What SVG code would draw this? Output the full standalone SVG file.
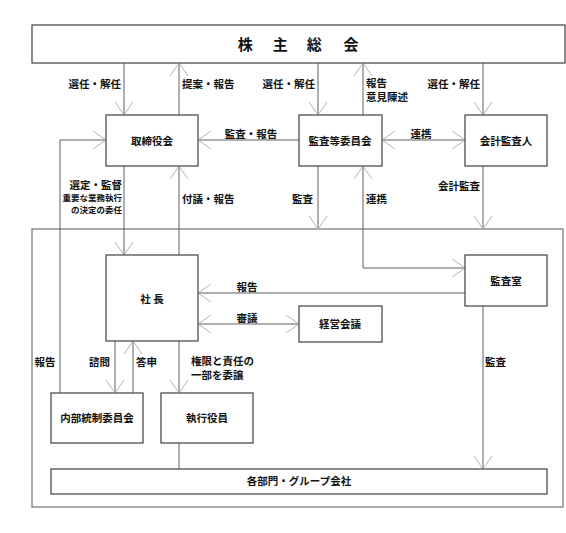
<svg xmlns="http://www.w3.org/2000/svg" width="566" height="533" viewBox="0 0 566 533">
<style>
.box{fill:#fff;stroke:#404040;stroke-width:1.2}
.frame{fill:none;stroke:#707070;stroke-width:1.2}
.ln{fill:none;stroke:#606060;stroke-width:1}
text{font-family:"Noto Sans CJK JP","Noto Sans",sans-serif;font-weight:bold;font-size:10.5px;fill:#111}
.c{text-anchor:middle}
.e{text-anchor:end}
.s{font-size:8.5px}
.t{font-size:15px}
</style>
<defs>
<marker id="ah" markerUnits="userSpaceOnUse" markerWidth="30" markerHeight="30" viewBox="-15 -15 30 30" refX="0" refY="0" orient="auto-start-reverse">
<path d="M-13,-9 L0,0 L-13,9" fill="none" stroke="#b4b4b4" stroke-width="1"/>
</marker>
</defs>
<rect class="frame" x="32" y="229" width="531" height="278"/>
<g id="connectors">
<line class="ln" x1="124" y1="63" x2="124" y2="115" marker-end="url(#ah)"/>
<line class="ln" x1="179" y1="115" x2="179" y2="63" marker-end="url(#ah)"/>
<line class="ln" x1="318" y1="63" x2="318" y2="115" marker-end="url(#ah)"/>
<line class="ln" x1="363" y1="115" x2="363" y2="63" marker-end="url(#ah)"/>
<line class="ln" x1="483" y1="63" x2="483" y2="115" marker-end="url(#ah)"/>
<line class="ln" x1="299" y1="140" x2="198" y2="140" marker-end="url(#ah)"/>
<line class="ln" x1="382" y1="140" x2="465" y2="140" marker-start="url(#ah)" marker-end="url(#ah)"/>
<polyline class="ln" points="60,393 60,140 106,140" marker-end="url(#ah)"/>
<line class="ln" x1="124" y1="166" x2="124" y2="255" marker-end="url(#ah)"/>
<line class="ln" x1="179" y1="255" x2="179" y2="166" marker-end="url(#ah)"/>
<line class="ln" x1="318" y1="166" x2="318" y2="229" marker-end="url(#ah)"/>
<polyline class="ln" points="363,166 363,268 465,268" marker-start="url(#ah)" marker-end="url(#ah)"/>
<line class="ln" x1="483" y1="166" x2="483" y2="229" marker-end="url(#ah)"/>
<line class="ln" x1="465" y1="293" x2="198" y2="293" marker-end="url(#ah)"/>
<line class="ln" x1="299" y1="324" x2="198" y2="324" marker-start="url(#ah)" marker-end="url(#ah)"/>
<line class="ln" x1="115" y1="341" x2="115" y2="393" marker-end="url(#ah)"/>
<line class="ln" x1="133" y1="393" x2="133" y2="341" marker-end="url(#ah)"/>
<line class="ln" x1="179" y1="341" x2="179" y2="393" marker-end="url(#ah)"/>
<line class="ln" x1="179" y1="443" x2="179" y2="469"/>
<line class="ln" x1="483" y1="306" x2="483" y2="469" marker-end="url(#ah)"/>
<text class="e" x="121" y="88">選任・解任</text>
<text x="182" y="88">提案・報告</text>
<text class="e" x="315" y="88">選任・解任</text>
<text><tspan x="366" y="87">報告</tspan><tspan x="366" y="101">意見陳述</tspan></text>
<text class="e" x="480" y="88">選任・解任</text>
<text class="c" x="251" y="138">監査・報告</text>
<text class="c" x="421" y="138">連携</text>
<text class="e"><tspan x="122" y="189">選定・監督</tspan><tspan class="s" x="122" y="201">重要な業務執行</tspan><tspan class="s" x="122" y="213">の決定の委任</tspan></text>
<text x="182" y="203">付議・報告</text>
<text class="e" x="313" y="203">監査</text>
<text x="366" y="203">連携</text>
<text class="e" x="480" y="190">会計監査</text>
<text class="c" x="247" y="291">報告</text>
<text class="c" x="247" y="322">審議</text>
<text x="485" y="366">監査</text>
<text class="c" x="45" y="366">報告</text>
<text class="e" x="110" y="366">諮問</text>
<text x="136" y="366">答申</text>
<text><tspan x="191" y="365">権限と責任の</tspan><tspan x="191" y="379">一部を委譲</tspan></text>
</g>
<g id="shareholders"><rect class="box" x="32" y="25" width="533" height="38"/><text class="c t"><tspan x="247" y="50">株</tspan> <tspan x="282" y="50">主</tspan> <tspan x="316" y="50">総</tspan> <tspan x="351" y="50">会</tspan></text></g>
<g id="board"><rect class="box" x="106" y="115" width="92" height="51"/><text class="c" x="152" y="145">取締役会</text></g>
<g id="audit-committee"><rect class="box" x="299" y="115" width="83" height="51"/><text class="c" x="340" y="145">監査等委員会</text></g>
<g id="accounting-auditor"><rect class="box" x="465" y="115" width="82" height="51"/><text class="c" x="506" y="145">会計監査人</text></g>
<g id="president"><rect class="box" x="106" y="255" width="92" height="86"/><text class="c" x="152" y="303">社 長</text></g>
<g id="audit-office"><rect class="box" x="465" y="255" width="82" height="51"/><text class="c" x="506" y="285">監査室</text></g>
<g id="management-meeting"><rect class="box" x="299" y="306" width="83" height="36"/><text class="c" x="340" y="328">経営会議</text></g>
<g id="internal-control"><rect class="box" x="51" y="393" width="92" height="50"/><text class="c" x="97" y="422">内部統制委員会</text></g>
<g id="executive-officers"><rect class="box" x="161" y="393" width="92" height="50"/><text class="c" x="207" y="422">執行役員</text></g>
<g id="departments"><rect class="box" x="51" y="469" width="496" height="25"/><text class="c" x="299" y="485">各部門・グループ会社</text></g>
</svg>
